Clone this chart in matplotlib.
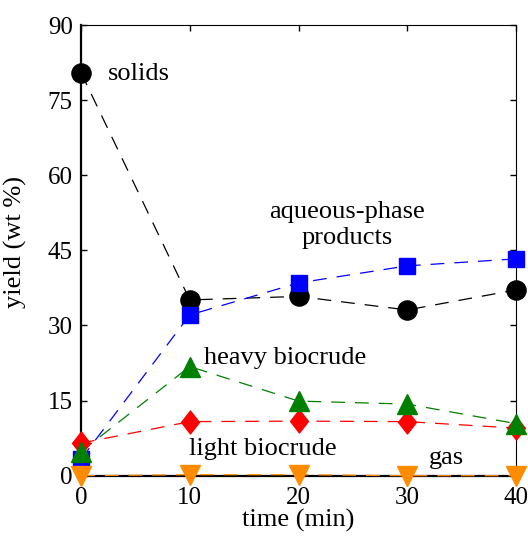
import numpy as np
import matplotlib
matplotlib.use("Agg")
import matplotlib.pyplot as plt
from matplotlib.path import Path

plt.rcParams['font.family'] = ['Liberation Serif', 'DejaVu Serif']
plt.rcParams['mathtext.fontset'] = 'stix'

# reaction time (min) and product yields (wt %)
time_min = [0, 10, 20, 30, 40]
solids = [80.5, 35.1, 35.8, 33.1, 37.1]
aqueous = [3.3, 32.1, 38.5, 41.9, 43.3]
light_biocrude = [6.5, 10.8, 10.9, 10.8, 9.5]
heavy_biocrude = [4.8, 21.8, 14.9, 14.3, 10.4]
gas = [0.0, 0.2, 0.2, 0.0, 0.0]

x_ticks = [0, 10, 20, 30, 40]
y_ticks = [0, 15, 30, 45, 60, 75, 90]

# slightly tall diamond
tall_diamond = Path([(0, 1), (0.78, 0), (0, -1), (-0.78, 0), (0, 1)],
                    [Path.MOVETO, Path.LINETO, Path.LINETO, Path.LINETO, Path.CLOSEPOLY])

series = [
    (solids, 'black', 'o', 13.8),
    (aqueous, 'blue', 's', 11.0),
    (light_biocrude, 'red', tall_diamond, 16.5),
    (heavy_biocrude, '#008000', '^', 15.0),
    (gas, '#FF8C00', 'v', 14.5),
]

fig = plt.figure(figsize=(5.28, 5.38), dpi=100)
ax = fig.add_axes([0.1534, 0.1158, 0.8239, 0.8377])

for vals, col, mk, ms in series:
    ax.plot(time_min, vals, color=col, lw=0.9, dashes=(11, 8),
            clip_on=False, zorder=3)
    ax.plot(time_min, vals, linestyle='none', marker=mk, markersize=ms,
            color=col, markeredgecolor=col, clip_on=False, zorder=4)

ax.set_xlim(0, 40)
ax.set_ylim(0, 90)
ax.set_xticks(x_ticks)
ax.set_yticks(y_ticks)
ax.tick_params(direction='in', length=4, width=1, labelsize=18,
               top=True, right=True)
ax.tick_params(axis='y', pad=6)
ax.tick_params(axis='x', pad=8)

for side in ['left', 'bottom']:
    ax.spines[side].set_linewidth(1.6)
for side in ['top', 'right']:
    ax.spines[side].set_linewidth(0.8)

ax.set_xlabel('time (min)', fontsize=19, labelpad=0)
ax.set_ylabel('yield (wt %)', fontsize=19)
ax.yaxis.set_label_coords(-0.124, 0.518)

fs = 19
ax.text(2.5, 80.2, 'solids', fontsize=fs, ha='left', va='center')
ax.text(24.5, 50.0, 'aqueous-phase\nproducts', fontsize=fs, ha='center',
        va='center', linespacing=1.25)
ax.text(11.3, 23.6, 'heavy biocrude', fontsize=fs, ha='left', va='center')
ax.text(9.9, 5.3, 'light biocrude', fontsize=fs, ha='left', va='center')
ax.text(33.6, 3.6, 'gas', fontsize=fs, ha='center', va='center')

fig.savefig('out.png', dpi=100)
